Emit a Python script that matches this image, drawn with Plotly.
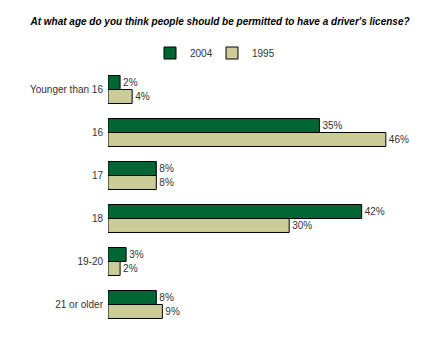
import plotly.graph_objects as go

categories = ["Younger than 16", "16", "17", "18", "19-20", "21 or older"]
v2004 = [2, 35, 8, 42, 3, 8]
v1995 = [4, 46, 8, 30, 2, 9]
series = [("2004", v2004, "#006633"), ("1995", v1995, "#CCCC99")]

fig = go.Figure()
for name, vals, col in series:
    fig.add_trace(go.Bar(
        y=categories, x=vals, name=name, orientation="h",
        marker=dict(color=col, line=dict(color="#000000", width=1)),
        text=[f"{v}%" for v in vals], textposition="outside",
        textfont=dict(family="Liberation Sans, Arial", size=10, color="#333333"),
        cliponaxis=False,
    ))

fig.update_layout(
    width=440, height=340,
    margin=dict(l=108, r=30, t=68, b=14, autoexpand=False),
    paper_bgcolor="white", plot_bgcolor="white",
    barmode="group", bargap=0.35, bargroupgap=0,
    font=dict(family="Liberation Sans, Arial", size=10, color="#333333"),
    title=dict(
        text="<b><i>At what age do you think people should be permitted to have a driver's license?</i></b>",
        x=0.5, xref="container", xanchor="center",
        y=1 - 21 / 340, yref="container", yanchor="middle",
        font=dict(family="Liberation Sans, Arial", size=10, color="#000000"),
    ),
    legend=dict(
        orientation="h", xref="paper", yref="paper",
        x=(150 - 108) / 302, xanchor="left", y=1 + 15 / 258, yanchor="middle",
        font=dict(size=10, color="#333333"),
        entrywidth=17, entrywidthmode="pixels", traceorder="normal",
    ),
    showlegend=True,
)
fig.update_xaxes(range=[0, 50], visible=False, showgrid=False, zeroline=False)
fig.update_yaxes(autorange="reversed", showgrid=False, zeroline=False,
                 showline=False, ticks="", ticklabelstandoff=4,
                 tickfont=dict(size=10, color="#333333"))

fig.write_html("out.html")
